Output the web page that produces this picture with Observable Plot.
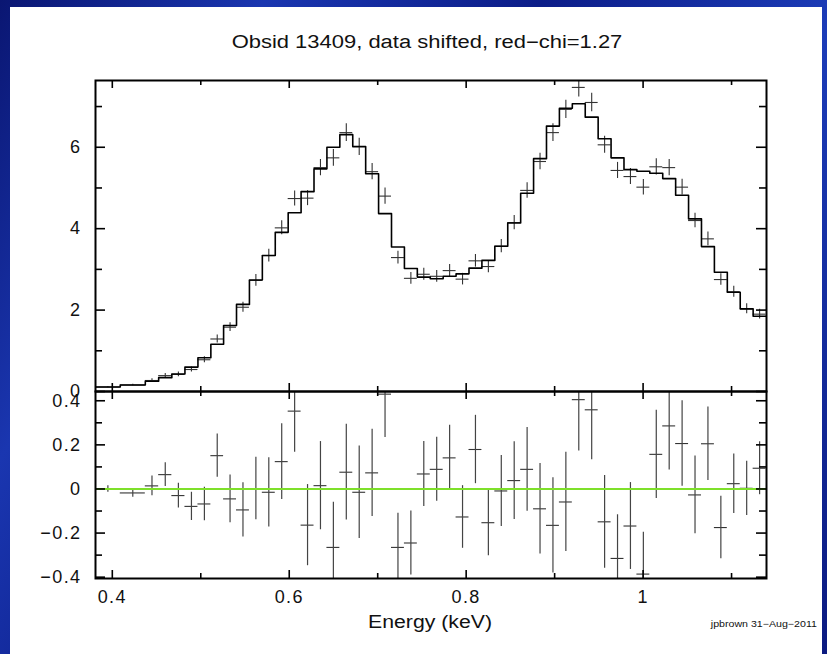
<!DOCTYPE html>
<html><head><meta charset="utf-8">
<script src="https://cdn.jsdelivr.net/npm/d3@7"></script>
<script src="https://cdn.jsdelivr.net/npm/@observablehq/plot@0.6"></script>
<style>
html,body{margin:0;padding:0;width:827px;height:654px;overflow:hidden;}
body{position:relative;background:linear-gradient(120deg,#0a1672 0%,#1a36b0 22%,#0c1d88 45%,#1c3cb8 70%,#0b1a80 100%);font-family:"Liberation Sans",Arial,sans-serif;}
#panel{position:absolute;left:10px;top:7px;width:812px;height:647px;background:#fff;}
.t{position:absolute;white-space:nowrap;color:#111;line-height:1;}
#title{left:427px;top:33px;font-size:18px;transform:translateX(-50%) scaleX(1.22);}
#xlabel{left:430px;top:613px;font-size:18px;transform:translateX(-50%) scaleX(1.18);}
#credit{right:10px;top:620px;font-size:9px;transform-origin:right center;transform:scaleX(1.18);}
svg.plotsvg{position:absolute;left:0;}
svg text{font-family:"Liberation Sans",Arial,sans-serif;letter-spacing:1.4px;fill:#111;}
</style></head>
<body>
<div id="panel"></div>
<div class="t" id="title">Obsid 13409, data shifted, red−chi=1.27</div>
<div class="t" id="xlabel">Energy (keV)</div>
<div class="t" id="credit">jpbrown 31−Aug−2011</div>
<script>
// Bin edges (keV)
const binEdges = [0.381, 0.409, 0.4373, 0.4524, 0.4673, 0.4821, 0.4968, 0.5114, 0.5258, 0.5404,
  0.5550, 0.5696, 0.5842, 0.5988, 0.6134, 0.6280, 0.6426, 0.6572, 0.6718, 0.6864,
  0.7010, 0.7156, 0.7302, 0.7448, 0.7594, 0.7740, 0.7886, 0.8032, 0.8178, 0.8324,
  0.8470, 0.8616, 0.8762, 0.8908, 0.9054, 0.9200, 0.9346, 0.9492, 0.9638, 0.9784,
  0.9930, 1.0076, 1.0222, 1.0368, 1.0514, 1.0660, 1.0806, 1.0952, 1.1098, 1.1244, 1.1390];
// Model (step histogram)
const modelCounts = [0.11, 0.16, 0.25, 0.34, 0.43, 0.60, 0.83, 1.16, 1.62, 2.14,
  2.74, 3.34, 3.91, 4.39, 4.91, 5.47, 6.00, 6.31, 6.02, 5.35,
  4.37, 3.55, 3.02, 2.81, 2.77, 2.83, 2.89, 3.03, 3.22, 3.57,
  4.14, 4.87, 5.72, 6.52, 6.96, 7.07, 6.74, 6.21, 5.74, 5.45,
  5.41, 5.36, 5.23, 4.82, 4.24, 3.56, 2.93, 2.44, 2.03, 1.85];
// Data points
const dataCounts = [0.11, 0.16, 0.27, 0.39, 0.42, 0.54, 0.78, 1.29, 1.58, 2.07,
  2.73, 3.34, 4.02, 4.74, 4.75, 5.50, 5.74, 6.36, 6.01, 5.40,
  4.80, 3.29, 2.78, 2.88, 2.83, 2.97, 2.76, 3.21, 3.07, 3.57,
  4.15, 4.94, 5.65, 6.36, 6.93, 7.47, 7.10, 6.06, 5.43, 5.28,
  5.02, 5.52, 5.50, 5.02, 4.20, 3.75, 2.75, 2.45, 2.03, 1.90];
// Residuals (data - model)
const residuals = [0.0, -0.018, 0.014, 0.065, -0.030, -0.079, -0.068, 0.151, -0.045, -0.095,
  0.002, -0.015, 0.124, 0.353, -0.164, 0.015, -0.265, 0.076, -0.015, 0.073,
  0.43, -0.265, -0.245, 0.068, 0.089, 0.141, -0.127, 0.179, -0.153, -0.009,
  0.038, 0.089, -0.090, -0.165, -0.059, 0.405, 0.359, -0.149, -0.315, -0.168,
  -0.386, 0.157, 0.286, 0.206, -0.027, 0.205, -0.175, 0.024, 0.003, 0.094];
// 1-sigma errors
const errors = [0.015, 0.02, 0.045, 0.054, 0.056, 0.064, 0.076, 0.098, 0.108, 0.123,
  0.142, 0.157, 0.172, 0.186, 0.184, 0.20, 0.205, 0.217, 0.21, 0.198,
  0.197, 0.155, 0.145, 0.147, 0.145, 0.148, 0.142, 0.155, 0.15, 0.161,
  0.176, 0.19, 0.205, 0.216, 0.225, 0.233, 0.227, 0.21, 0.198, 0.197,
  0.19, 0.20, 0.20, 0.194, 0.176, 0.167, 0.142, 0.135, 0.123, 0.12];

const xMajorTicks = [0.4, 0.6, 0.8, 1.0];
const xTickLabels = ["0.4", "0.6", "0.8", "1"];
const xMinorTicks = [0.5, 0.7, 0.9, 1.1];
const yTopLabelTicks = [0, 2, 4, 6];
const yTopMinorTicks = [1, 3, 5, 7];
const yBotLabelTicks = [-0.4, -0.2, 0, 0.2, 0.4];
const yBotTickLabels = ["−0.4", "−0.2", "0", "0.2", "0.4"];
const yBotMinorTicks = [-0.3, -0.1, 0.1, 0.3];

const xDomain = [0.381, 1.1395];
const W = 827, ML = 95, MR = 61;
const FW = W - ML - MR;

const bins = modelCounts.map((m, i) => ({
  lo: binEdges[i], hi: binEdges[i + 1], mid: (binEdges[i] + binEdges[i + 1]) / 2,
  model: m, data: dataCounts[i], res: residuals[i], err: errors[i]
}));
const stepPts = bins.flatMap(b => [{x: b.lo, y: b.model}, {x: b.hi, y: b.model}]);

function frameTicks(FH, ticksX, lenX, ticksY, lenY) {
  return [
    Plot.ruleX(ticksX, {insetBottom: FH - lenX, stroke: "#000", strokeWidth: 1.6}),
    Plot.ruleX(ticksX, {insetTop: FH - lenX, stroke: "#000", strokeWidth: 1.6}),
    Plot.ruleY(ticksY, {insetRight: FW - lenY, stroke: "#000", strokeWidth: 1.6}),
    Plot.ruleY(ticksY, {insetLeft: FW - lenY, stroke: "#000", strokeWidth: 1.6})
  ];
}

// Upper panel
const topMT = 80, topH = 392, topMB = 1;
const topFH = topH - topMT - topMB;
const upper = Plot.plot({
  width: W, height: topH, marginLeft: ML, marginRight: MR, marginTop: topMT, marginBottom: topMB,
  x: {domain: xDomain, axis: null},
  y: {domain: [0, 7.64]},
  style: {background: "transparent", overflow: "visible"},
  marks: [
    Plot.ruleY(bins, {x1: "lo", x2: "hi", y: "data", stroke: "#333", strokeWidth: 1.1, clip: true}),
    Plot.ruleX(bins, {x: "mid", y1: d => d.data - d.err, y2: d => d.data + d.err, stroke: "#333", strokeWidth: 1.1, clip: true}),
    Plot.line(stepPts, {x: "x", y: "y", stroke: "#000", strokeWidth: 1.6, clip: true}),
    ...frameTicks(topFH, xMajorTicks, 8, yTopLabelTicks, 10),
    ...frameTicks(topFH, xMinorTicks, 5, yTopMinorTicks, 7),
    Plot.axisY(yTopLabelTicks, {anchor: "left", tickSize: 0, tickPadding: 14, fontSize: 18, label: null, tickFormat: d => String(d)}),
    Plot.frame({stroke: "#000", strokeWidth: 2})
  ]
});
upper.classList.add("plotsvg");
upper.style.top = "0px";

// Lower panel
const botTop = 380, botMT = 11, botMB = 60, botH = 258;
const botFH = botH - botMT - botMB;
const lower = Plot.plot({
  width: W, height: botH, marginLeft: ML, marginRight: MR, marginTop: botMT, marginBottom: botMB,
  x: {domain: xDomain},
  y: {domain: [-0.406, 0.442]},
  style: {background: "transparent", overflow: "visible"},
  marks: [
    Plot.ruleY(bins, {x1: "lo", x2: "hi", y: "res", stroke: "#333", strokeWidth: 1.1, clip: true}),
    Plot.ruleX(bins, {x: "mid", y1: d => d.res - d.err, y2: d => d.res + d.err, stroke: "#444", strokeWidth: 1.2, clip: true}),
    Plot.ruleY([0], {stroke: "#7ee02a", strokeWidth: 2}),
    ...frameTicks(botFH, xMajorTicks, 8, yBotLabelTicks, 10),
    ...frameTicks(botFH, xMinorTicks, 5, yBotMinorTicks, 7),
    Plot.axisY(yBotLabelTicks, {anchor: "left", tickSize: 0, tickPadding: 14, fontSize: 18, label: null,
      tickFormat: d => yBotTickLabels[yBotLabelTicks.indexOf(d)]}),
    Plot.axisX(xMajorTicks, {anchor: "bottom", tickSize: 0, tickPadding: 12, fontSize: 18, label: null,
      tickFormat: d => xTickLabels[xMajorTicks.indexOf(d)]}),
    Plot.frame({stroke: "#000", strokeWidth: 2})
  ]
});
lower.classList.add("plotsvg");
lower.style.top = botTop + "px";

document.body.appendChild(lower);
document.body.appendChild(upper);
</script>
</body></html>
